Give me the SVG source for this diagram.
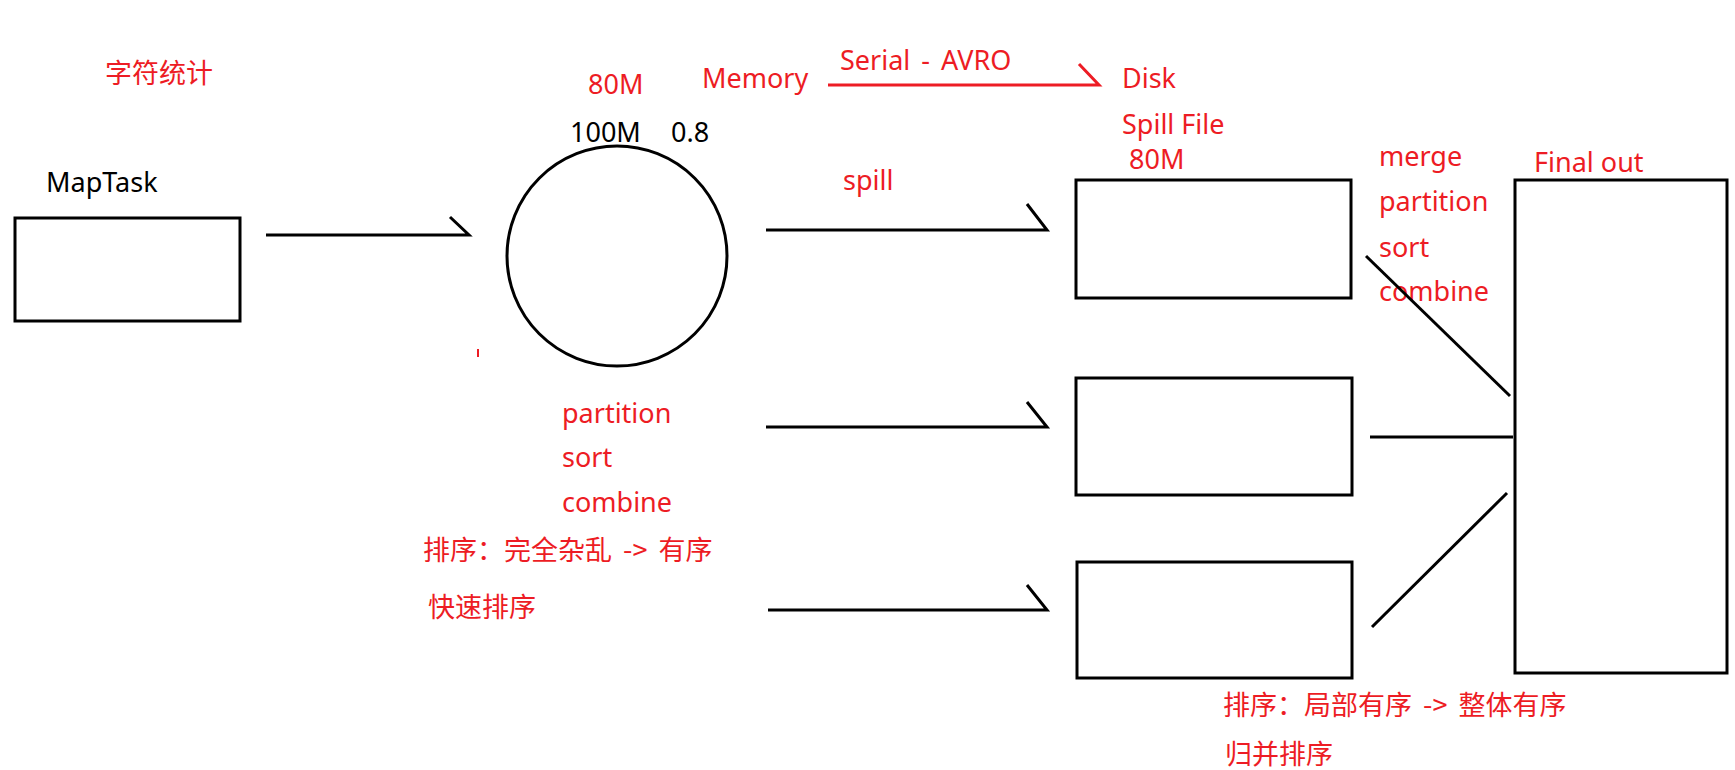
<svg xmlns="http://www.w3.org/2000/svg" width="1735" height="770" viewBox="0 0 1735 770">
<style>
.shape{fill:none;stroke:#000;stroke-width:3}
.conn{fill:none;stroke:#000;stroke-width:3}
.rconn{fill:none;stroke:#ED1C24;stroke-width:3}
.t{font-family:"Noto Sans","Open Sans","Liberation Sans",sans-serif;font-size:27px}
.cjk{font-family:"Noto Sans CJK SC","Noto Sans",sans-serif;font-size:27px;word-spacing:5px}
.red{fill:#ED1C24}
.blk{fill:#000}
</style>
<rect width="1735" height="770" fill="#fff"/>
<text class="cjk red" x="105" y="83">字符统计</text>
<g id="maptask">
<text class="t blk" x="46" y="192">MapTask</text>
<rect class="shape" x="15" y="218" width="225" height="103"/>
</g>
<g id="buffer">
<circle class="shape" cx="617" cy="256" r="110"/>
<text class="t red" x="588" y="94">80M</text>
<text class="t blk" x="570" y="142">100M</text>
<text class="t blk" x="671" y="142">0.8</text>
<text class="t red" x="562" y="423">partition</text>
<text class="t red" x="562" y="467">sort</text>
<text class="t red" x="562" y="512">combine</text>
<text class="cjk red" x="423" y="560">排序：完全杂乱 -&gt; 有序</text>
<text class="cjk red" x="428" y="617">快速排序</text>
<line x1="478" y1="349" x2="478" y2="357" stroke="#ED1C24" stroke-width="2"/>
</g>
<g id="memdisk">
<text class="t red" x="702" y="88">Memory</text>
<text class="t red" x="840" y="70" style="word-spacing:4px">Serial - AVRO</text>
<text class="t red" x="1122" y="88">Disk</text>
<text class="t red" x="1122" y="134">Spill File</text>
</g>
<g id="spill1">
<text class="t red" x="1129" y="169">80M</text>
<rect class="shape" x="1076" y="180" width="275" height="118"/>
</g>
<g id="spill2">
<rect class="shape" x="1076" y="378" width="276" height="117"/>
</g>
<g id="spill3">
<rect class="shape" x="1077" y="562" width="275" height="116"/>
</g>
<g id="final">
<text class="t red" x="1534" y="172">Final out</text>
<rect class="shape" x="1515" y="180" width="212" height="493"/>
</g>
<g id="merge-labels">
<text class="t red" x="1379" y="166">merge</text>
<text class="t red" x="1379" y="211">partition</text>
<text class="t red" x="1379" y="257">sort</text>
<text class="t red" x="1379" y="301">combine</text>
</g>
<text class="t red" x="843" y="190">spill</text>
<text class="cjk red" x="1223" y="715">排序：局部有序 -&gt; 整体有序</text>
<text class="cjk red" x="1225" y="764">归并排序</text>
<g id="connectors">
<polyline class="conn" points="266,235 469,235 450,217"/>
<polyline class="rconn" points="828,85 1099,85 1079,64"/>
<polyline class="conn" points="766,230 1047,230 1027,204"/>
<polyline class="conn" points="766,427 1047,427 1027,402"/>
<polyline class="conn" points="768,610 1047,610 1027,585"/>
<line class="conn" x1="1366" y1="256" x2="1510" y2="396"/>
<line class="conn" x1="1370" y1="437" x2="1513" y2="437"/>
<line class="conn" x1="1372" y1="627" x2="1507" y2="493"/>
</g>
</svg>
